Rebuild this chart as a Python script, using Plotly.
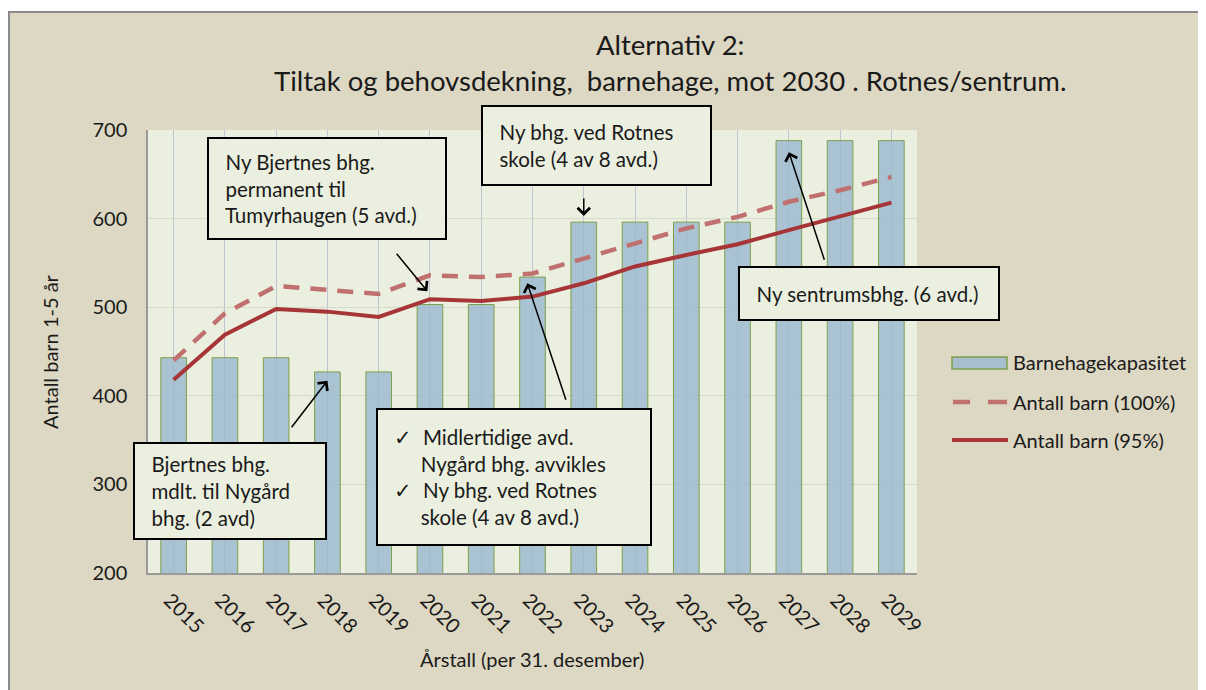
import plotly.graph_objects as go

# Data
years = ["2015", "2016", "2017", "2018", "2019", "2020", "2021", "2022",
         "2023", "2024", "2025", "2026", "2027", "2028", "2029"]
kapasitet = [443, 443, 443, 427, 427, 503, 503, 534, 596, 596, 596, 596, 688, 688, 688]
barn_100 = [440, 493, 524, 519, 515, 536, 534, 538, 555, 572, 589, 602, 619, 632, 647]
barn_95 = [418, 469, 498, 495, 489, 509, 507, 512, 527, 546, 559, 571, 587, 603, 618]

# plot area in window pixels (window 1206x690, page body has an 8px margin)
L, R, T, B = 148, 917, 130, 573
W, H = 1206, 690
OFF = 8


def px(x):
    return (x - L) / (R - L)


def py(y):
    return (B - y) / (B - T)


FONT = "Lato, 'Open Sans', sans-serif"
BG = "#DDD8C3"
TXT = "#1a1a1a"
BAR_FILL = "rgba(150,182,207,0.78)"
BAR_LINE = "#7F9F4A"
C100 = "#C0716F"
C95 = "#A73537"

fig = go.Figure()
fig.add_trace(go.Bar(
    x=years, y=kapasitet, name="Barnehagekapasitet", width=0.5,
    marker=dict(color=BAR_FILL, line=dict(color=BAR_LINE, width=1)),
))
fig.add_trace(go.Scatter(
    x=years, y=barn_100, name="Antall barn (100%)", mode="lines",
    line=dict(color=C100, width=4.5, dash="16px,11px"),
))
fig.add_trace(go.Scatter(
    x=years, y=barn_95, name="Antall barn (95%)", mode="lines",
    line=dict(color=C95, width=4),
))

# text boxes: (text, left, top, right, bottom) in pixels
nb = "\u00a0"
ind = nb * 2
boxes = [
    ("Ny Bjertnes bhg.<br>permanent til<br>Tumyrhaugen (5 avd.)", 207, 137, 447, 240),
    ("Ny bhg. ved Rotnes<br>skole (4 av 8 avd.)", 481, 105, 712, 186),
    ("Ny sentrumsbhg. (6 avd.)", 738, 266, 1000, 321),
    ("Bjertnes bhg.<br>mdlt. til Nygård<br>bhg. (2 avd)", 133, 442, 327, 540),
    ("✓" + nb * 2 + "Midlertidige avd.<br>" + nb * 5 + "Nygård bhg. avvikles<br>"
     "✓" + nb * 2 + "Ny bhg. ved Rotnes<br>" + nb * 5 + "skole (4 av 8 avd.)",
     376, 408, 652, 546),
]
pad = 6
annotations = []
for text, x0, y0, x1, y1 in boxes:
    text = "<br>".join(ind + line for line in text.split("<br>"))
    annotations.append(dict(
        text=text, xref="paper", yref="paper", x=px(x0), y=py(y0),
        xanchor="left", yanchor="top", showarrow=False, align="left", valign="middle",
        width=x1 - x0 - 2 * pad - 4, height=y1 - y0 - 2 * pad - 4,
        borderpad=pad, borderwidth=2, bordercolor="#000000", bgcolor="#EBEFDF",
        font=dict(family=FONT, size=20.5, color=TXT),
    ))

# arrows: (x index, y value of tip, tail offset in px)
arrows = [(4.95, 518, -32, -39), (8, 603, 0, -19), (12, 675, 36, 109),
          (3, 417, -37, 48), (6.9, 527, 39, 118)]
for xi, yv, ax, ay in arrows:
    annotations.append(dict(
        text="", x=xi, y=yv, xref="x", yref="y", ax=ax, ay=ay,
        showarrow=True, arrowhead=4, arrowsize=1.6, arrowwidth=1.5, arrowcolor="#000000",
    ))

annotations += [
    dict(text="Alternativ 2:<br>Tiltak og behovsdekning," + nb * 2 + "barnehage, mot 2030 . Rotnes/sentrum.",
         xref="paper", yref="paper", x=px(670), y=py(62), xanchor="center", yanchor="middle",
         showarrow=False, font=dict(family=FONT, size=27.5, color=TXT)),
    dict(text="Antall barn 1-5 år", xref="paper", yref="paper", x=px(50), y=py(352),
         textangle=-90, xanchor="center", yanchor="middle", showarrow=False,
         font=dict(family=FONT, size=20, color=TXT)),
    dict(text="Årstall (per 31. desember)", xref="paper", yref="paper", x=px(532), y=py(659),
         xanchor="center", yanchor="middle", showarrow=False,
         font=dict(family=FONT, size=20, color=TXT)),
]

# legend drawn by hand so the symbols can be long like the original
legend_rows = [("Barnehagekapasitet", 362), ("Antall barn (100%)", 402), ("Antall barn (95%)", 440)]
for label, yc in legend_rows:
    annotations.append(dict(
        text=label, xref="paper", yref="paper", x=px(1011), y=py(yc),
        xanchor="left", yanchor="middle", showarrow=False,
        font=dict(family=FONT, size=20, color=TXT),
    ))

shapes = [
    # white strip and grey frame line at the top / left edge
    dict(type="rect", xref="paper", yref="paper", x0=px(0), x1=px(W + 10), y0=py(12), y1=py(-10),
         fillcolor="white", line=dict(width=0), layer="below"),
    dict(type="line", xref="paper", yref="paper", x0=px(8), x1=px(W + 10), y0=py(12), y1=py(12),
         line=dict(color="#8A8A8A", width=2)),
    dict(type="line", xref="paper", yref="paper", x0=px(9), x1=px(9), y0=py(12), y1=py(H + 10),
         line=dict(color="#8A8A8A", width=2)),
    # legend symbols
    dict(type="rect", xref="paper", yref="paper", x0=px(952), x1=px(1007), y0=py(357), y1=py(369),
         fillcolor=BAR_FILL, line=dict(color=BAR_LINE, width=1.5)),
    dict(type="line", xref="paper", yref="paper", x0=px(953), x1=px(970), y0=py(402), y1=py(402),
         line=dict(color=C100, width=4.5)),
    dict(type="line", xref="paper", yref="paper", x0=px(988), x1=px(1007), y0=py(402), y1=py(402),
         line=dict(color=C100, width=4.5)),
    dict(type="line", xref="paper", yref="paper", x0=px(952), x1=px(1008), y0=py(440), y1=py(440),
         line=dict(color=C95, width=4)),
]

fig.update_layout(
    width=W - OFF, height=H - OFF,
    margin=dict(l=L - OFF, r=W - R, t=T - OFF, b=H - B),
    paper_bgcolor=BG, plot_bgcolor="#EBEFDF",
    font=dict(family=FONT, size=18, color=TXT),
    showlegend=False,
    annotations=annotations,
    shapes=shapes,
)
fig.update_xaxes(
    type="category", showgrid=True, gridcolor="#BFC4D3", gridwidth=1,
    showline=True, linecolor="#9A9A9A", linewidth=1.5,
    tickangle=45, tickfont=dict(size=20), ticks="", ticklabelstandoff=6,
    ticklabelshift=-4,
)
fig.update_yaxes(
    range=[200, 700], dtick=100, showgrid=True, gridcolor="#D6DACB", gridwidth=1,
    showline=True, linecolor="#9A9A9A", linewidth=1.5, zeroline=False,
    tickfont=dict(size=20), ticks="", ticklabelstandoff=15,
)

fig.write_html("out.html")
